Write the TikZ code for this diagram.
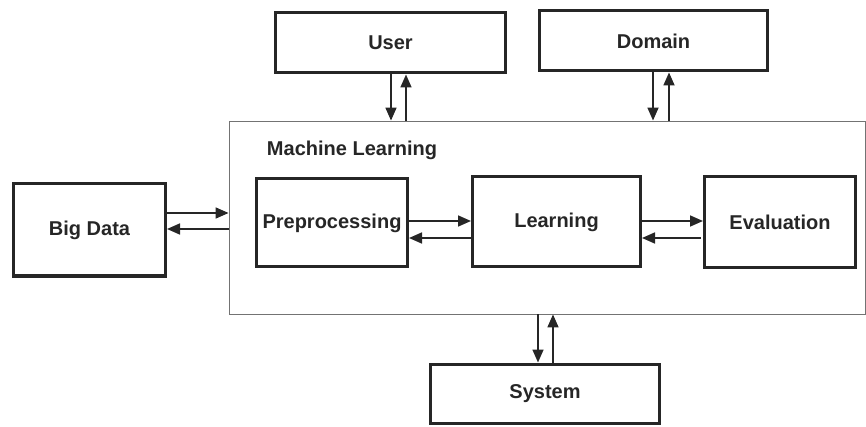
\documentclass[tikz,border=0pt]{standalone}
\usepackage{fontspec}
\setmainfont{Liberation Sans}
\usetikzlibrary{arrows.meta}
\begin{document}
\begin{tikzpicture}[x=1pt,y=-1pt,
  box/.style={draw=black!85, line width=3pt, font=\bfseries\fontsize{20}{24}\selectfont, text=black!85, inner sep=0pt},
  outer/.style={draw=black!55, line width=0.9pt, inner sep=0pt},
  arr/.style={-{Triangle[length=13pt,width=11pt]}, line width=1.7pt, draw=black!85},
  lbl/.style={font=\bfseries\fontsize{20}{24}\selectfont, text=black!85, inner sep=0pt}
]
\useasboundingbox (0,0) rectangle (866,427);
\node[outer, minimum width=636pt, minimum height=193pt] (ml) at (547,217.5) {};
\node[lbl] (mllabel) at (352,150) {Machine Learning};
\node[box, minimum width=230pt, minimum height=60pt] (user) at (390.5,43) {User};
\node[box, minimum width=228pt, minimum height=60pt] (domain) at (653.5,41) {Domain};
\node[box, minimum width=152pt, minimum height=92pt] (bd) at (89.5,230) {Big Data};
\node[box, minimum width=151pt, minimum height=88pt] (prep) at (332,223) {Preprocessing};
\node[box, minimum width=168pt, minimum height=90pt] (learn) at (556.5,222) {Learning};
\node[box, minimum width=151pt, minimum height=91pt] (eval) at (780,222.5) {Evaluation};
\node[box, minimum width=229pt, minimum height=59pt] (sys) at (545,393.5) {System};
% Big Data <-> ML
\draw[arr] ([yshift=17pt]bd.east) -- ([yshift=17pt]bd.east -| ml.west);
\draw[arr] ([yshift=1pt]bd.east -| ml.west) -- ([yshift=1pt]bd.east);
% Prep <-> Learning
\draw[arr] ([yshift=2pt]prep.east) -- ([yshift=2pt]prep.east -| learn.west);
\draw[arr] ([yshift=-15pt]prep.east -| learn.west) -- ([yshift=-15pt]prep.east);
% Learning <-> Evaluation
\draw[arr] ([yshift=1pt]learn.east) -- ([yshift=1pt]learn.east -| eval.west);
\draw[arr] ([yshift=-16pt,xshift=-2pt]learn.east -| eval.west) -- ([yshift=-16pt]learn.east);
% User <-> ML
\draw[arr] ([xshift=0.5pt]user.south) -- ([xshift=0.5pt]user.south |- ml.north);
\draw[arr] ([xshift=15.5pt]user.south |- ml.north) -- ([xshift=15.5pt]user.south);
% Domain <-> ML
\draw[arr] ([xshift=-0.5pt]domain.south) -- ([xshift=-0.5pt]domain.south |- ml.north);
\draw[arr] ([xshift=15.5pt]domain.south |- ml.north) -- ([xshift=15.5pt]domain.south);
% ML <-> System
\draw[arr] ([xshift=-7pt]sys.north |- ml.south) -- ([xshift=-7pt]sys.north);
\draw[arr] ([xshift=8pt]sys.north) -- ([xshift=8pt]sys.north |- ml.south);
\end{tikzpicture}
\end{document}
